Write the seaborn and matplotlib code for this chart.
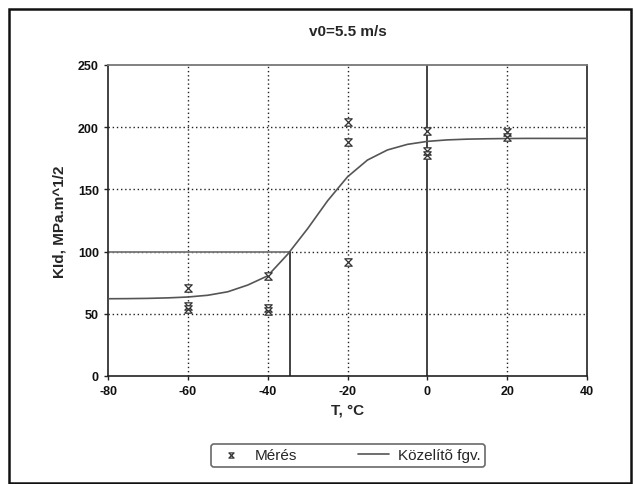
import numpy as np
import pandas as pd
import matplotlib
matplotlib.use("Agg")
import matplotlib.pyplot as plt
from matplotlib.path import Path
from matplotlib.patches import Rectangle
import seaborn as sns

# ---- data ----
title = "v0=5.5 m/s"
x_label = "T, °C"
y_label = "KId, MPa.m^1/2"
meas_label = "Mérés"
fit_label = "Közelítõ fgv."

T_meas = [-60, -60, -60, -40, -40, -40, -20, -20, -20, 0, 0, 0, 20, 20]
K_meas = [71, 56, 54, 80, 55, 52, 204, 188, 92, 197, 181, 178, 196, 192]

T_fit = [-80, -75, -70, -65, -60, -55, -50, -45, -40, -35, -30, -25, -20,
         -15, -10, -5, 0, 5, 10, 15, 20, 25, 30, 35, 40]
K_fit = [62.1, 62.2, 62.4, 62.8, 63.5, 64.9, 67.7, 73.1, 80.5, 97.8, 118.4,
         140.8, 160.1, 173.6, 181.7, 186.2, 188.6, 189.8, 190.4, 190.7, 190.9,
         191.0, 191.0, 191.0, 191.0]

T_100 = -34.4      # temperature where fitted curve reaches 100
K_ref = 100

x_ticks = [-80, -60, -40, -20, 0, 20, 40]
y_ticks = [0, 50, 100, 150, 200, 250]

# ---- style ----
sns.set_style("white")
plt.rcParams['font.family'] = ['Liberation Sans', 'DejaVu Sans']
plt.rcParams['axes.unicode_minus'] = False

fig = plt.figure(figsize=(6.34, 4.85), dpi=100)
ax = fig.add_axes([108/634, 1-377/485, (587-108)/634, (377-66)/485])

df_meas = pd.DataFrame({"T": T_meas, "K": K_meas})
df_fit = pd.DataFrame({"T": T_fit, "K": K_fit})

hourglass = Path([(-1, 1), (1, 1), (-1, -1), (1, -1), (-1, 1)],
                 [Path.MOVETO, Path.LINETO, Path.LINETO, Path.LINETO, Path.CLOSEPOLY])

# grid
ax.set_xlim(-80, 40)
ax.set_ylim(0, 250)
ax.set_xticks(x_ticks)
ax.set_yticks(y_ticks)
for xv in [-60, -40, -20, 20]:
    ax.axvline(xv, color="#222222", lw=1.0, ls=(0, (1, 2)), zorder=1)
for yv in [50, 100, 150, 200]:
    ax.axhline(yv, color="#222222", lw=1.0, ls=(0, (1, 2)), zorder=1)

# reference lines
ax.plot([-80, T_100], [K_ref, K_ref], color="#777777", lw=1.3, zorder=2)
ax.plot([T_100, T_100], [0, K_ref], color="#222222", lw=1.2, zorder=2)
ax.axvline(0, color="#222222", lw=1.2, zorder=2)

sns.lineplot(data=df_fit, x="T", y="K", ax=ax, color="#555555", lw=1.2,
             label=fit_label, zorder=3, legend=False)
sns.scatterplot(data=df_meas, x="T", y="K", ax=ax, marker=hourglass, s=28,
                facecolor="white", edgecolor="#333333", linewidth=0.9,
                label=meas_label, zorder=4, legend=False)

ax.set_xlabel(x_label, fontsize=11, fontweight="bold", labelpad=4)
ax.set_ylabel(y_label, fontsize=11, fontweight="bold", labelpad=8)
fig.suptitle(title, x=348/634, y=1-32/485, va="center", fontsize=11,
             fontweight="bold")

ax.tick_params(axis="both", labelsize=9, length=3, width=1, direction="out",
               colors="#222222", bottom=True, left=True)
for lbl in ax.get_xticklabels() + ax.get_yticklabels():
    lbl.set_color("#111111")
    lbl.set_fontweight("bold")

for side in ["left", "bottom", "right"]:
    ax.spines[side].set_color("#222222")
    ax.spines[side].set_linewidth(1.2)
ax.spines["top"].set_color("#777777")
ax.spines["top"].set_linewidth(1.3)

# legend
handles = [ax.collections[-1], ax.lines[-1]]
leg = fig.legend(handles, [meas_label, fit_label], loc="center",
                 bbox_to_anchor=(348/634, 1-456.5/485), ncol=2, fontsize=11,
                 frameon=True, fancybox=True, edgecolor="#444444",
                 handlelength=2.0, columnspacing=4.0, borderpad=0.3,
                 handletextpad=0.6, markerscale=0.7)
leg.get_frame().set_linewidth(1.2)

# figure border
fig.patches.append(Rectangle((9/634, 1-484/485), (631-9)/634, (484-10)/485,
                             transform=fig.transFigure, fill=False,
                             edgecolor="#111111", lw=1.8))

fig.savefig("out.png", dpi=100)
